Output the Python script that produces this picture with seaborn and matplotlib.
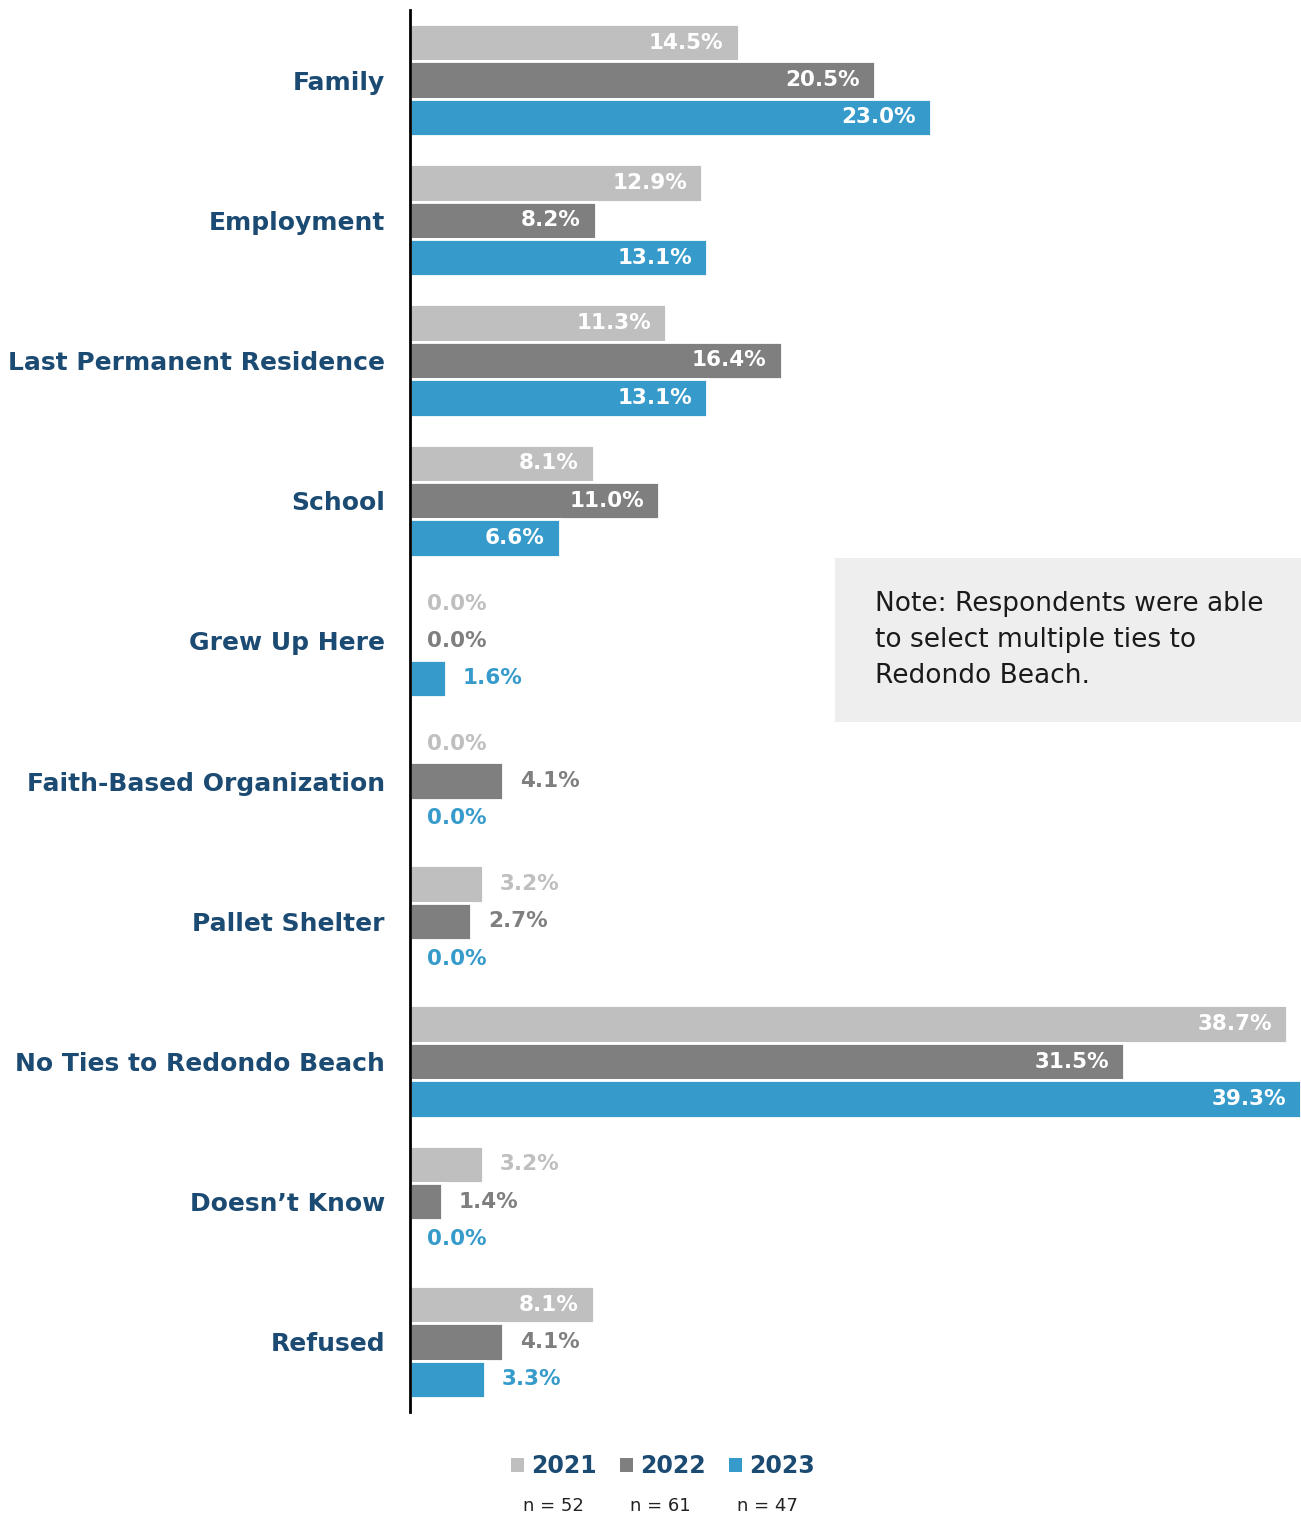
import numpy as np
import pandas as pd
import matplotlib
matplotlib.use("Agg")
import matplotlib.pyplot as plt
from matplotlib.patches import Patch
import seaborn as sns

categories = ["Family", "Employment", "Last Permanent Residence", "School", "Grew Up Here",
              "Faith-Based Organization", "Pallet Shelter", "No Ties to Redondo Beach",
              "Doesn\u2019t Know", "Refused"]
years = ["2021", "2022", "2023"]
vals_2021 = [14.5, 12.9, 11.3, 8.1, 0.0, 0.0, 3.2, 38.7, 3.2, 8.1]
vals_2022 = [20.5, 8.2, 16.4, 11.0, 0.0, 4.1, 2.7, 31.5, 1.4, 4.1]
vals_2023 = [23.0, 13.1, 13.1, 6.6, 1.6, 0.0, 0.0, 39.3, 0.0, 3.3]
n_sizes = ["n = 52", "n = 61", "n = 47"]
note = "Note: Respondents were able\nto select multiple ties to\nRedondo Beach."

colors = ["#BFBFBF", "#7F7F7F", "#369BCB"]
navy = "#1B4A72"

df = pd.DataFrame({
    "category": categories * 3,
    "year": [y for y in years for _ in categories],
    "value": vals_2021 + vals_2022 + vals_2023,
})

sns.set_style("white")
plt.rcParams["font.family"] = ["DejaVu Sans"]

fig = plt.figure(figsize=(13.01, 15.16), dpi=100)
ax = fig.add_axes([410 / 1301, 1 - 1412 / 1516, 891 / 1301, 1402 / 1516])

sns.barplot(data=df, y="category", x="value", hue="year", order=categories,
            hue_order=years, palette=colors, orient="h", ax=ax, legend=False,
            edgecolor="white", linewidth=2, saturation=1)

ax.set_xlim(0, 39.3)
ax.set_ylim(9.5, -0.5)
ax.set_xlabel("")
ax.set_ylabel("")
ax.set_xticks([])
for s in ["top", "right", "bottom"]:
    ax.spines[s].set_visible(False)
ax.spines["left"].set_color("black")
ax.spines["left"].set_linewidth(2)
ax.tick_params(axis="y", length=0, pad=18)
for lab in ax.get_yticklabels():
    lab.set_color(navy)
    lab.set_fontweight("bold")
    lab.set_fontsize(18)

for cont, col in zip(ax.containers, colors):
    for bar in cont:
        v = bar.get_width()
        yc = bar.get_y() + bar.get_height() / 2
        if v >= 5:
            ax.annotate(f"{v:.1f}%", (v, yc), xytext=(-11, 0), textcoords="offset points",
                        ha="right", va="center", color="white", fontsize=15.5, fontweight="bold")
        else:
            ax.annotate(f"{v:.1f}%", (v, yc), xytext=(12, 0), textcoords="offset points",
                        ha="left", va="center", color=col, fontsize=15.5, fontweight="bold")

# note box
fig.patches.append(plt.Rectangle((835 / 1301, 1 - 722 / 1516), 466 / 1301, 164 / 1516,
                                 transform=fig.transFigure, facecolor="#EEEEEE",
                                 edgecolor="none", zorder=0))
fig.text(875 / 1301, 1 - 640 / 1516, note, ha="left", va="center", fontsize=19,
         color="#1a1a1a", linespacing=1.5)

# legend
handles = [Patch(facecolor=c, edgecolor="none") for c in colors]
leg = fig.legend(handles, years, loc="center", bbox_to_anchor=(663 / 1301, 1 - 1466 / 1516),
                 ncol=3, frameon=False, handlelength=0.55, handleheight=0.55,
                 handletextpad=0.3, columnspacing=1.0,
                 prop={"weight": "bold", "size": 17})
for t in leg.get_texts():
    t.set_color(navy)
for x, t in zip([553, 660, 767], n_sizes):
    fig.text(x / 1301, 1 - 1506 / 1516, t, ha="center", va="center", fontsize=13, color="#222222")

fig.savefig("out.png", dpi=100)
